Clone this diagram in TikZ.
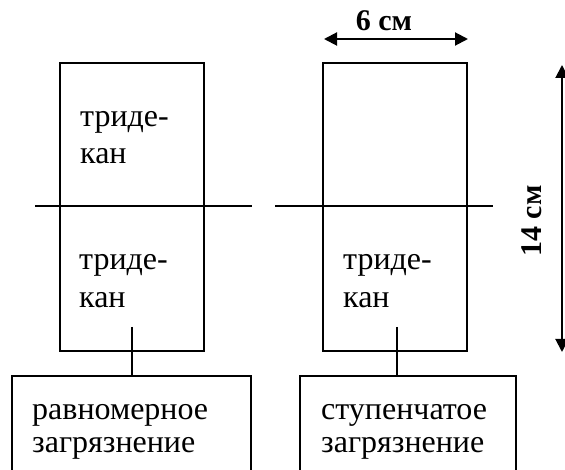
\documentclass[tikz,border=0pt]{standalone}
\usepackage{fontspec}
\setmainfont{Liberation Serif}
\usetikzlibrary{arrows.meta}
\begin{document}
\begin{tikzpicture}[x=1pt,y=-1pt,
  box/.style={draw,line width=1.5pt,rectangle,inner sep=0pt},
  lbl/.style={font=\fontsize{32}{37}\selectfont,anchor=base west,inner sep=0pt},
  dimline/.style={line width=2pt,{Triangle[length=13pt,width=13pt]}-{Triangle[length=13pt,width=13pt]}},
  dimlbl/.style={font=\fontsize{30}{36}\selectfont\bfseries,inner sep=0pt,anchor=base},
  cut/.style={line width=1.3pt},
  link/.style={line width=1.5pt}]
\useasboundingbox (0,0) rectangle (565,470);
% tall boxes
\node[box,minimum width=144pt,minimum height=288pt] (L) at (132,207) {};
\node[box,minimum width=144pt,minimum height=288pt] (R) at (395,207) {};
% bottom boxes
\node[box,minimum width=239pt,minimum height=130pt] (LB) at (131.5,441) {};
\node[box,minimum width=216pt,minimum height=130pt] (RB) at (408,441) {};
% cut lines
\coordinate (h1a) at (35,206);
\coordinate (h1b) at (252,206);
\coordinate (h2a) at (275,206);
\coordinate (h2b) at (493,206);
\draw[cut] (h1a) -- (h1b);
\draw[cut] (h2a) -- (h2b);
% texts
\node[lbl] (t1) at (80,127) {триде-};
\node[lbl] (t2) at (80,164) {кан};
\node[lbl] (t3) at (79,270) {триде-};
\node[lbl] (t4) at (79,308) {кан};
\node[lbl] (t5) at (343,270) {триде-};
\node[lbl] (t6) at (343,308) {кан};
\node[lbl] (t7) at (32,419) {равномерное};
\node[lbl] (t8) at (32,452) {загрязнение};
\node[lbl] (t9) at (321,419) {ступенчатое};
\node[lbl] (t10) at (321,452) {загрязнение};
% connectors
\coordinate (lc) at (132,327);
\coordinate (rc) at (397,327);
\draw[link] (lc) -- (lc |- LB.north);
\draw[link] (rc) -- (rc |- RB.north);
% dimensions
\coordinate (wa) at (324,39);
\coordinate (wb) at (468,39);
\draw[dimline] (wa) -- (wb);
\node[dimlbl] (wl) at (384,31) {6 см};
\coordinate (ha) at (562,65);
\coordinate (hb) at (562,352);
\draw[dimline] (ha) -- (hb);
\node[dimlbl,rotate=90] (hl) at (541,221) {14 см};
\end{tikzpicture}
\end{document}
